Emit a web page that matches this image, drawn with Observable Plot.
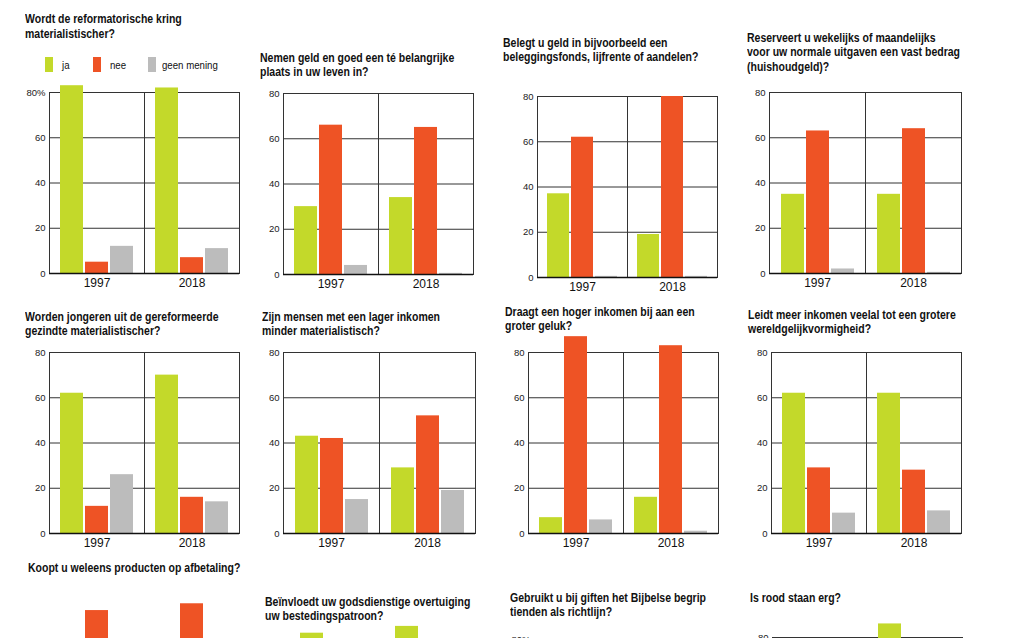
<!DOCTYPE html>
<html>
<head>
<meta charset="utf-8">
<script src="https://cdn.jsdelivr.net/npm/d3@7"></script>
<script src="https://cdn.jsdelivr.net/npm/@observablehq/plot@0.6"></script>
<style>
  html, body { margin: 0; padding: 0; background: #fff; overflow: hidden; }
  #chart { position: relative; width: 1020px; height: 638px; overflow: hidden; background: #fff; }
  .ttl { position: absolute; font-weight: bold; font-size: 12.5px; line-height: 14.5px; color: #111; white-space: nowrap; transform-origin: 0 0; z-index: 2; }
  .lg { position: absolute; font-size: 11.5px; color: #111; white-space: nowrap; transform-origin: 0 50%; z-index: 2; }
  .sw { position: absolute; z-index: 2; }
  .pl { position: absolute; z-index: 1; }
  .pl [aria-label^="fx-axis"] text { font-size: 12px; font-family: "Liberation Sans", Arial, sans-serif; fill: #111; }
</style>
</head>
<body>
<div id="chart"></div>
<script>
// ---------- data ----------
const answers = ["ja", "nee", "geen mening"];
const years = ["1997", "2018"];
const titles = [
  ["Wordt de reformatorische kring", "materialistischer?"],
  ["Nemen geld en goed een té belangrijke", "plaats in uw leven in?"],
  ["Belegt u geld in bijvoorbeeld een", "beleggingsfonds, lijfrente of aandelen?"],
  ["Reserveert u wekelijks of maandelijks", "voor uw normale uitgaven een vast bedrag", "(huishoudgeld)?"],
  ["Worden jongeren uit de gereformeerde", "gezindte materialistischer?"],
  ["Zijn mensen met een lager inkomen", "minder materialistisch?"],
  ["Draagt een hoger inkomen bij aan een", "groter geluk?"],
  ["Leidt meer inkomen veelal tot een grotere", "wereldgelijkvormigheid?"],
  ["Koopt u weleens producten op afbetaling?"],
  ["Beïnvloedt uw godsdienstige overtuiging", "uw bestedingspatroon?"],
  ["Gebruikt u bij giften het Bijbelse begrip", "tienden als richtlijn?"],
  ["Is rood staan erg?"]
];
const ja1997   = [83, 30, 37, 35, 62, 43,  7, 62,  3, 85, 70, 78];
const nee1997  = [ 5, 66, 62, 63, 12, 42, 87, 29, 95, 10, 25, 18];
const geen1997 = [12,  4, 0.5, 2, 26, 15,  6,  9,  2,  5,  5,  4];
const ja2018   = [82, 34, 19, 35, 70, 29, 16, 62,  1, 88, 65, 86];
const nee2018  = [ 7, 65, 80, 64, 16, 52, 83, 28, 98,  8, 30, 11];
const geen2018 = [11, 0.5, 0.5, 0.5, 14, 19, 1, 10, 1,  4,  5,  3];
const yDomainMax = 80;
const gridValues = [20, 40, 60];
const percentPanels = [0, 10];

// ---------- styles & layout ----------
const colors = ["#c3d92a", "#ee5325", "#bcbcbc"];
const frames = [
  [48, 92, 191], [283, 93, 190], [536, 96, 181], [769, 92, 192],
  [48, 352, 191], [283, 352, 192], [527, 352, 191], [770, 352, 191],
  [48, 644, 191], [288, 644, 191], [533, 639, 191], [772, 637, 190]
];
const titlePos = [
  [25, 19.5], [260, 58], [503, 43], [747, 38],
  [25, 317], [262, 317], [505, 312], [748, 315],
  [28, 568], [265, 602], [510, 598], [750, 598]
];
const legendSwatchX = [45, 93, 148];
const legendTextX = [62, 110, 162];
const legendY = 65;
const viewH = 638;

function hasFont(name) {
  const c = document.createElement("canvas").getContext("2d");
  const s = "mmmmmmmmmmWWWWiiiill0123456789";
  c.font = "40px monospace"; const a = c.measureText(s).width;
  c.font = `40px "${name}", monospace`; const b = c.measureText(s).width;
  return Math.abs(a - b) > 0.5;
}
const narrowOK = hasFont("Liberation Sans Narrow");
const narrowFam = narrowOK ? '"Liberation Sans Narrow", "Liberation Sans", Arial, sans-serif' : '"Liberation Sans", Arial, sans-serif';
const squeeze = narrowOK ? 1.02 : 0.84;

const chart = document.getElementById("chart");

// titles
titles.forEach((lines, i) => {
  const d = document.createElement("div");
  d.className = "ttl";
  d.style.fontFamily = narrowFam;
  d.style.left = titlePos[i][0] + "px";
  d.style.top = (titlePos[i][1] - 7.25) + "px";
  d.style.transform = `scaleX(${squeeze})`;
  d.innerHTML = lines.map(l => l.replace(/&/g, "&amp;")).join("<br>");
  chart.appendChild(d);
});

// legend (panel 1)
answers.forEach((a, k) => {
  const s = document.createElement("div");
  s.className = "sw";
  s.style.left = legendSwatchX[k] + "px";
  s.style.top = (legendY - 8) + "px";
  s.style.width = "8px"; s.style.height = "15px";
  s.style.background = colors[k];
  chart.appendChild(s);
  const t = document.createElement("div");
  t.className = "lg";
  t.style.fontFamily = narrowFam;
  t.style.left = legendTextX[k] + "px";
  t.style.top = (legendY - 7) + "px";
  t.style.lineHeight = "14px";
  t.style.transform = `scaleX(${squeeze})`;
  t.textContent = a;
  chart.appendChild(t);
});

// panels
const H = 181, ml = 40, mr = 6, mt = 50, mb = 24;
titles.forEach((_, i) => {
  const vals = {
    "1997": [ja1997[i], nee1997[i], geen1997[i]],
    "2018": [ja2018[i], nee2018[i], geen2018[i]]
  };
  const rows = [];
  years.forEach(y => answers.forEach((a, k) => rows.push({year: y, answer: a, value: vals[y][k]})));
  const [L, T, W] = frames[i];
  const pct = percentPanels.includes(i);
  const plot = Plot.plot({
    width: W + ml + mr,
    height: H + mt + mb,
    marginLeft: ml, marginRight: mr, marginTop: mt, marginBottom: mb,
    facet: {data: rows, x: "year"},
    fx: {domain: years, padding: 0, axis: "bottom", tickSize: 0, tickPadding: 5, label: null},
    x: {domain: answers, paddingInner: 0.1, paddingOuter: 0.42, axis: null},
    y: {domain: [0, yDomainMax], ticks: 5, tickSize: 0, tickPadding: 4, label: null,
        tickFormat: d => (pct && d === yDomainMax) ? d + "%" : String(d)},
    color: {domain: answers, range: colors},
    style: {background: "transparent", overflow: "visible", fontFamily: narrowFam, fontSize: narrowOK ? "10.5px" : "9.5px", color: "#222", maxWidth: "none"},
    marks: [
      Plot.ruleY(gridValues, {stroke: "#333", strokeWidth: 1}),
      Plot.frame({stroke: "#333", strokeWidth: 1}),
      Plot.barY(rows, {x: "answer", y: "value", fill: "answer"}),
      Plot.ruleY([0], {stroke: "#111", strokeWidth: 1.5})
    ]
  });
  const wrap = document.createElement("div");
  wrap.className = "pl";
  wrap.style.left = (L - ml) + "px";
  wrap.style.top = (T - mt) + "px";
  wrap.appendChild(plot);
  chart.appendChild(wrap);
});

// texts that fall entirely below the visible page (as in the cropped reference) are dropped
chart.querySelectorAll("svg text").forEach(t => {
  const r = t.getBoundingClientRect();
  if (r.top >= viewH) t.remove();
});
</script>
</body>
</html>
